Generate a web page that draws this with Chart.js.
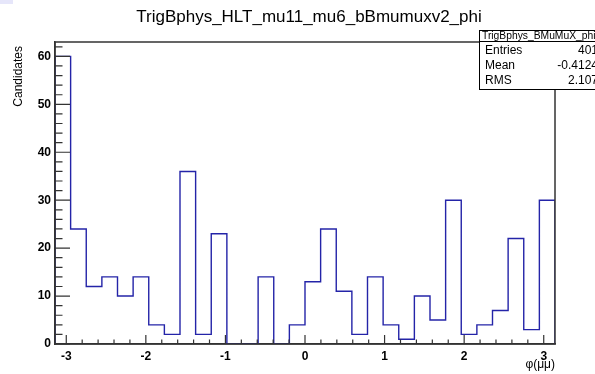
<!DOCTYPE html>
<html>
<head>
<meta charset="utf-8">
<script src="https://cdn.jsdelivr.net/npm/chart.js@4.4.1/dist/chart.umd.min.js"></script>
<style>
  html, body { margin: 0; padding: 0; background: #fff; }
  canvas { display: block; }
</style>
</head>
<body>
<canvas id="phiChart" width="595" height="374"></canvas>
<script>
// histogram: 32 bins from -pi to pi
const binLow = -Math.PI;
const binHigh = Math.PI;
const counts = [60, 24, 12, 14, 10, 14, 4, 2, 36, 2, 23, 0, 0, 14, 0, 4,
                13, 24, 11, 2, 14, 4, 1, 10, 5, 30, 2, 4, 7, 22, 3, 30];
const xTicks = [-3, -2, -1, 0, 1, 2, 3];
const yTicks = [0, 10, 20, 30, 40, 50, 60];
const yMax = 63;
const statsLabels = ['Entries', 'Mean', 'RMS'];
const statsValues = ['401', '-0.4124', '2.107'];

const histTitle = 'TrigBphys_HLT_mu11_mu6_bBmumuxv2_phi';
const statsTitle = 'TrigBphys_BMuMuX_phi';
const xTitle = 'φ(μμ)';
const yTitle = 'Candidates';

const FONT = "'Liberation Sans', Arial, sans-serif";
const lineBlue = '#2424a8';
const axisColor = '#333333';

// outline points: left edge of each bin; the horizontal run comes first
const binWidth = (binHigh - binLow) / counts.length;
const outline = [{ x: binLow, y: 0 }];
counts.forEach(function(c, i) {
    outline.push({ x: binLow + i * binWidth, y: c });
});
outline.push({ x: binHigh, y: counts[counts.length - 1] });
outline.push({ x: binHigh, y: 0 });

const rootStyle = {
    id: 'rootStyle',
    afterDraw: function(chart) {
        const ctx = chart.ctx;
        const area = chart.chartArea;
        const xs = chart.scales.x;
        const ys = chart.scales.y;

        ctx.save();
        // frame
        ctx.strokeStyle = axisColor;
        ctx.lineWidth = 1.5;
        ctx.strokeRect(area.left, area.top, area.right - area.left, area.bottom - area.top);

        // x ticks (inward)
        ctx.lineWidth = 1.2;
        ctx.beginPath();
        for (let v = -3.2; v <= 3.2 + 1e-9; v += 0.2) {
            const val = Math.round(v * 10) / 10;
            if (val < binLow || val > binHigh) continue;
            const px = xs.getPixelForValue(val);
            const major = Math.abs(val - Math.round(val)) < 1e-6;
            ctx.moveTo(px, area.bottom);
            ctx.lineTo(px, area.bottom - (major ? 9 : 4.5));
        }
        // y ticks (inward)
        for (let v = 0; v <= yMax; v += 2) {
            const py = ys.getPixelForValue(v);
            const major = v % 10 === 0;
            ctx.moveTo(area.left, py);
            ctx.lineTo(area.left + (major ? 15 : 7.5), py);
        }
        ctx.stroke();

        // title
        ctx.fillStyle = '#000';
        ctx.font = '17px ' + FONT;
        ctx.textAlign = 'center';
        ctx.textBaseline = 'middle';
        ctx.fillText(histTitle, 309, 17);

        // axis titles
        ctx.font = '12px ' + FONT;
        ctx.textAlign = 'right';
        ctx.fillText(xTitle, area.right, 365);

        ctx.save();
        ctx.translate(19, 46);
        ctx.rotate(-Math.PI / 2);
        ctx.textAlign = 'right';
        ctx.fillText(yTitle, 0, 0);
        ctx.restore();

        // stats box
        ctx.fillStyle = '#fff';
        ctx.fillRect(479.5, 30.5, 130, 59);
        ctx.strokeStyle = '#000';
        ctx.lineWidth = 1;
        ctx.strokeRect(479.5, 30.5, 130, 59);
        ctx.beginPath();
        ctx.moveTo(479.5, 41.5);
        ctx.lineTo(600, 41.5);
        ctx.stroke();

        ctx.fillStyle = '#000';
        ctx.font = '10.3px ' + FONT;
        ctx.textAlign = 'left';
        ctx.fillText(statsTitle, 482, 36);

        ctx.font = '12px ' + FONT;
        statsLabels.forEach(function(lab, i) {
            const yy = 51 + i * 15;
            ctx.textAlign = 'left';
            ctx.fillText(lab, 485, yy);
            ctx.textAlign = 'right';
            ctx.fillText(statsValues[i], 598, yy);
        });

        // corner tint from the original screenshot
        ctx.fillStyle = '#e6e6fa';
        ctx.fillRect(0, 0, 13, 4);
        ctx.restore();
    }
};

new Chart(document.getElementById('phiChart').getContext('2d'), {
    type: 'line',
    data: {
        datasets: [{
            data: outline,
            stepped: 'before',
            borderColor: lineBlue,
            borderWidth: 1.4,
            pointRadius: 0,
            fill: false
        }]
    },
    options: {
        responsive: false,
        devicePixelRatio: 1,
        animation: false,
        layout: { padding: { left: 0, top: 42, right: 40, bottom: 0 } },
        plugins: {
            legend: { display: false },
            tooltip: { enabled: false }
        },
        scales: {
            x: {
                type: 'linear',
                min: binLow,
                max: binHigh,
                afterBuildTicks: function(scale) {
                    scale.ticks = xTicks.map(function(v) { return { value: v }; });
                },
                afterFit: function(scale) { scale.height = 30; },
                grid: { display: true, drawOnChartArea: false, drawTicks: false },
                border: { display: true, color: axisColor, width: 1.5 },
                ticks: {
                    padding: 5,
                    maxRotation: 0,
                    color: '#000',
                    font: { family: FONT, size: 12, weight: 'bold' },
                    callback: function(v) { return String(v); }
                }
            },
            y: {
                type: 'linear',
                min: 0,
                max: yMax,
                afterBuildTicks: function(scale) {
                    scale.ticks = yTicks.map(function(v) { return { value: v }; });
                },
                afterFit: function(scale) { scale.width = 55; },
                grid: { display: true, drawOnChartArea: false, drawTicks: false },
                border: { display: true, color: axisColor, width: 1.5 },
                ticks: {
                    padding: 4,
                    color: '#000',
                    font: { family: FONT, size: 12, weight: 'bold' },
                    callback: function(v) { return String(v); }
                }
            }
        }
    },
    plugins: [rootStyle]
});
</script>
</body>
</html>
